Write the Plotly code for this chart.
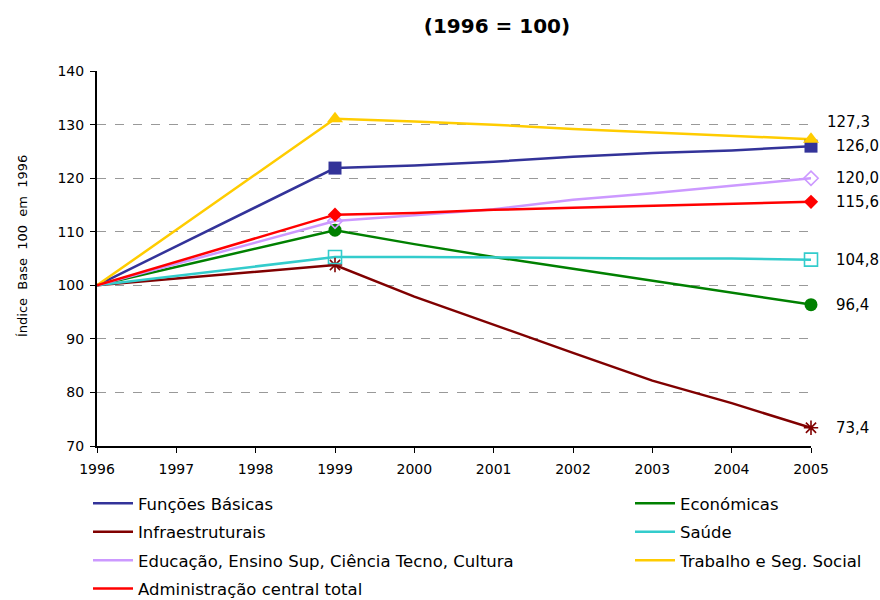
import plotly.graph_objects as go

years = [1996, 1999, 2000, 2001, 2002, 2003, 2004, 2005]
marker_years = [1999, 2005]

funcoes = [100, 121.9, 122.4, 123.1, 124.0, 124.7, 125.2, 126.0]
economicas = [100, 110.3, 107.7, 105.3, 103.1, 100.9, 98.6, 96.4]
infra = [100, 103.8, 97.9, 92.6, 87.4, 82.2, 78.0, 73.4]
saude = [100, 105.3, 105.3, 105.2, 105.0, 105.0, 105.0, 104.8]
educacao = [100, 112.0, 113.1, 114.2, 116.0, 117.2, 118.6, 120.0]
trabalho = [100, 131.1, 130.6, 130.0, 129.2, 128.6, 128.0, 127.3]
admin = [100, 113.2, 113.5, 114.1, 114.5, 114.9, 115.2, 115.6]

names = [
    "Funções Básicas",
    "Económicas",
    "Infraestruturais",
    "Saúde",
    "Educação, Ensino Sup, Ciência Tecno, Cultura",
    "Trabalho e Seg. Social",
    "Administração central total",
]
series = [funcoes, economicas, infra, saude, educacao, trabalho, admin]
colors = ["#333399", "#008000", "#800000", "#33CCCC", "#CC99FF", "#FFCC00", "#FF0000"]
symbols = ["square", "circle", "asterisk-open", "square-open", "diamond-open", "triangle-up", "diamond"]
marker_sizes = [13, 13, 12, 13, 11, 14, 11]
legend_ids = ["legend", "legend2", "legend", "legend2", "legend", "legend2", "legend"]

FONT = "DejaVu Sans"

# plot area in pixels (for positioning helpers)
L, R, T, B = 97, 811, 71, 446
PW, PH = R - L, B - T


def px_x(px):
    return (px - L) / PW


def px_y(py):
    return (B - py) / PH


fig = go.Figure()
for i, (nm, vals, col, lg) in enumerate(zip(names, series, colors, legend_ids)):
    fig.add_trace(go.Scatter(
        x=years, y=vals, mode="lines", name=nm,
        line=dict(color=col, width=2.5),
        legend=lg, legendgroup=f"g{i}", showlegend=True,
        hoverinfo="skip",
    ))
for i, (nm, vals, col, sym, ms) in enumerate(zip(names, series, colors, symbols, marker_sizes)):
    my = [v for x, v in zip(years, vals) if x in marker_years]
    open_sym = sym.endswith("-open")
    fig.add_trace(go.Scatter(
        x=marker_years, y=my, mode="markers", showlegend=False,
        marker=dict(symbol=sym, size=ms, color=col,
                    line=dict(color=col, width=1.6 if open_sym else 0)),
        cliponaxis=False, hoverinfo="skip",
    ))

# end-point data labels
annotations = []
for vals, nm in zip(series, names):
    v = vals[-1]
    txt = f"{v:.1f}".replace(".", ",")
    ys = 17 if nm.startswith("Trabalho") else 0
    xs = 14 if nm.startswith("Trabalho") else 23
    annotations.append(dict(
        x=years[-1], y=v, xref="x", yref="y", text=txt, showarrow=False,
        xanchor="left", yanchor="middle", xshift=xs, yshift=ys,
        font=dict(family=FONT, size=15, color="#000000"),
    ))

annotations.append(dict(
    x=px_x(22), y=px_y(246), xref="paper", yref="paper",
    text="Índice\u00a0 Base\u00a0 100\u00a0 em\u00a0 1996", textangle=-90,
    showarrow=False, xanchor="center", yanchor="middle",
    font=dict(family=FONT, size=13, color="#000000"),
))

legend_common = dict(
    xref="paper", yref="paper", xanchor="left", yanchor="top",
    orientation="v", tracegroupgap=4, traceorder="grouped", itemwidth=40,
    font=dict(family=FONT, size=16.5, color="#000000"), bgcolor="rgba(0,0,0,0)",
)

fig.update_layout(
    width=880, height=600,
    margin=dict(l=L, r=880 - R, t=T, b=600 - B, autoexpand=False),
    paper_bgcolor="white", plot_bgcolor="white",
    title=dict(text="<b>(1996 = 100)</b>", x=497 / 880, xanchor="center",
               y=1 - 26 / 600, yanchor="middle", yref="container",
               font=dict(family=FONT, size=20, color="#000000")),
    xaxis=dict(range=[1996, 2005], tickmode="array", tickvals=list(range(1996, 2006)),
               showgrid=False, zeroline=False, showline=True, linecolor="black", linewidth=2,
               ticks="outside", ticklen=5, tickcolor="black", tickwidth=1,
               ticklabelstandoff=4,
               tickfont=dict(family=FONT, size=14, color="#000000")),
    yaxis=dict(range=[70, 140.03], tickmode="array", tickvals=list(range(70, 141, 10)),
               showgrid=True, gridcolor="#999999", griddash="dash",
               gridwidth=1, zeroline=False, showline=True, linecolor="black", linewidth=2,
               ticks="outside", ticklen=5, tickcolor="black", tickwidth=1,
               ticklabelstandoff=3,
               tickfont=dict(family=FONT, size=14, color="#000000")),
    legend=dict(x=px_x(88), y=px_y(486), **legend_common),
    legend2=dict(x=px_x(630), y=px_y(486), **legend_common),
    annotations=annotations,
    showlegend=True,
)

fig.write_html("out.html", post_script="document.body.style.margin='0';",
               config={"displayModeBar": False})
